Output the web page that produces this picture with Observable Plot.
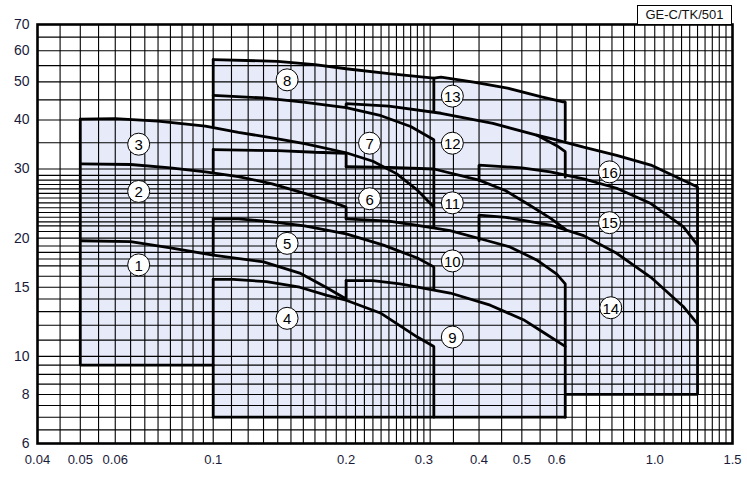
<!DOCTYPE html>
<html><head><meta charset="utf-8">
<script src="https://cdn.jsdelivr.net/npm/d3@7"></script>
<script src="https://cdn.jsdelivr.net/npm/@observablehq/plot@0.6"></script>
<style>
body{margin:0;background:#fff;font-family:"Liberation Sans",Arial,sans-serif}
#wrap{position:relative;width:747px;height:477px}
#tag{position:absolute;left:637px;top:5px;width:93px;height:18px;border:1px solid #000;font-size:13px;line-height:18px;text-align:center;color:#111;background:#fff}
</style></head><body><div id="wrap"><div id="tag">GE-C/TK/501</div></div>
<script>
const xTicks=[0.04,0.05,0.06,0.08,0.1,0.2,0.3,0.4,0.5,0.6,0.8,1.0,1.5];
const xTickLabels=["0.04","0.05","0.06","0.08","0.1","0.2","0.3","0.4","0.5","0.6","0.8","1.0","1.5"];
const yTicks=[6,8,10,15,20,30,40,50,60,70];
const xGrid=[0.045,0.05,0.055,0.06,0.065,0.07,0.075,0.08,0.085,0.09,0.095,0.1,0.11,0.12,0.13,0.14,0.15,0.16,0.17,0.18,0.19,0.2,0.21,0.22,0.23,0.24,0.25,0.26,0.27,0.28,0.29,0.3,0.31,0.35,0.4,0.45,0.5,0.55,0.6,0.65,0.7,0.75,0.8,0.85,0.9,0.95,1.0,1.05,1.1,1.15,1.2,1.25,1.3,1.35,1.4,1.45];
const yGrid=[6.5,7,7.5,8,8.5,9,9.5,10,11,12,13,14,15,16,17,17.7,18.4,19.1,20,20.8,21.5,22,22.6,23.25,23.9,24.6,25.3,26,26.7,27.4,28.1,28.9,30,35,40,45,50,55,60,65];

// curves [flow, head]
const c1=[[0.05,19.7],[0.065,19.6],[0.08,18.9],[0.1,18.1],[0.13,17.4],[0.157,16.3],[0.18,15.0],[0.2,14.0],[0.2,15.6]];
const c2=[[0.05,30.9],[0.065,30.8],[0.08,30.2],[0.096,29.5],[0.114,28.7],[0.136,27.5],[0.161,26.0],[0.186,24.7],[0.2,24.0],[0.2,22.4]];
const c3=[[0.05,40.2],[0.06,40.3],[0.075,39.7],[0.096,38.6],[0.114,37.2],[0.136,36.0],[0.161,34.8],[0.2,33.0],[0.23,31.4],[0.26,29.2],[0.29,26.5],[0.316,24.0]];
const c4=[[0.1,15.7],[0.111,15.7],[0.132,15.5],[0.157,15.0],[0.181,14.3],[0.2,13.9],[0.239,12.9],[0.29,11.2],[0.316,10.6],[0.316,7]];
const c5=[[0.1,22.4],[0.114,22.4],[0.136,22.0],[0.161,21.5],[0.2,20.5],[0.243,19.2],[0.29,17.8],[0.316,16.9],[0.316,14.8]];
const c6=[[0.1,33.6],[0.14,33.4],[0.17,33.1],[0.2,32.9],[0.2,30.4]];
const c7=[[0.1,46.2],[0.13,45.5],[0.16,44.4],[0.2,43.0],[0.24,41.0],[0.28,38.5],[0.316,35.6],[0.316,21.3]];
const c8=[[0.1,57.0],[0.14,56.4],[0.17,55.3],[0.2,54],[0.25,52.5],[0.316,51.1],[0.316,42.3]];
const c9=[[0.2,15.6],[0.23,15.6],[0.265,15.3],[0.344,14.5],[0.424,13.5],[0.504,12.4],[0.56,11.5],[0.627,10.6],[0.627,7]];
const c10=[[0.2,22.4],[0.25,22.1],[0.295,21.5],[0.344,20.9],[0.418,19.7],[0.47,19.0],[0.54,17.6],[0.6,16.2],[0.627,15.3],[0.627,10.6]];
const c11=[[0.2,30.4],[0.25,30.3],[0.316,30.0],[0.4,28.1],[0.46,26.4],[0.52,24.3],[0.58,22.5],[0.627,21.1]];
const c12=[[0.2,43.0],[0.2,44.0],[0.25,43.4],[0.328,41.6],[0.43,39.2],[0.54,36.6],[0.6,34.4],[0.627,33.2],[0.627,28.6]];
const c13=[[0.316,51.1],[0.328,51.4],[0.389,49.9],[0.464,48.2],[0.554,45.8],[0.62,44.5],[0.627,44.5],[0.627,35.6]];
const c14=[[0.4,19.7],[0.4,22.9],[0.46,22.6],[0.58,21.6],[0.69,20.3],[0.82,18.3],[0.98,15.9],[1.16,13.4],[1.25,12.1]];
const c15=[[0.4,28.1],[0.4,30.7],[0.5,30.2],[0.58,29.5],[0.69,28.3],[0.82,26.8],[0.98,24.5],[1.16,21.4],[1.25,19.2]];
const c16=[[0.54,36.6],[0.58,35.9],[0.69,34.1],[0.82,32.5],[0.98,30.7],[1.16,28.1],[1.25,27.0],[1.25,8],[0.627,8]];
const edgeA=[[0.1,9.5],[0.05,9.5],[0.05,40.2]];
const edgeB=[[0.1,7],[0.627,7]];
const leftB1=[[0.1,7],[0.1,15.7]];
const leftB2=[[0.1,18.1],[0.1,22.4]];
const leftB3=[[0.1,29.5],[0.1,33.6]];
const leftB4=[[0.1,38.6],[0.1,57.0]];

const outlines={c1,c2,c3,c4,c5,c6,c7,c8,c9,c10,c11,c12,c13,c14,c15,c16,edgeA,edgeB,leftB1,leftB2,leftB3,leftB4};

// shaded bands: [flow, base, top]
const fillA=[[0.05,9.5,40.2],[0.06,9.5,40.3],[0.075,9.5,39.7],[0.1,9.5,38.5]];
const fillB=[[0.1,7,57.0],[0.14,7,56.4],[0.17,7,55.3],[0.2,7,54],[0.25,7,52.5],[0.316,7,51.1]];
const fillC=[[0.316,7,51.1],[0.328,7,51.4],[0.389,7,49.9],[0.464,7,48.2],[0.554,7,45.8],[0.627,7,44.5]];
const fillD=[[0.627,8,35.6],[0.69,8,34.1],[0.82,8,32.5],[0.98,8,30.7],[1.16,8,28.1],[1.25,8,27.0]];

const labelNo=["1","2","3","4","5","6","7","8","9","10","11","12","13","14","15","16"];
const labelX=[0.0678,0.0678,0.0678,0.147,0.147,0.226,0.226,0.147,0.348,0.348,0.348,0.348,0.348,0.795,0.79,0.79];
const labelY=[17.1,26.3,34.7,12.5,19.4,25.2,34.9,50.6,11.2,17.5,24.6,34.9,46.0,13.3,21.9,29.5];

const lineRows=[];
for(const [id,pts] of Object.entries(outlines)) for(const [x,y] of pts) lineRows.push({id,x,y});
const fillRows=[];
for(const [fam,pts] of Object.entries({fillA,fillB,fillC,fillD})) for(const [x,b,t] of pts) fillRows.push({fam,x,b,t});
const labels=labelNo.map((t,i)=>({t,x:labelX[i],y:labelY[i]}));

const chart=Plot.plot({
  width:747,height:477,marginLeft:37,marginRight:15,marginTop:24,marginBottom:34,
  style:{fontFamily:"'Liberation Sans',Arial,sans-serif",background:"transparent"},
  x:{type:"log",domain:[0.04,1.5]},
  y:{type:"log",domain:[6,70]},
  marks:[
    Plot.areaY(fillRows,{x:"x",y1:"b",y2:"t",z:"fam",fill:"#e7eaf8"}),
    Plot.ruleX(xGrid,{stroke:"#000",strokeWidth:1.1}),
    Plot.ruleY(yGrid,{stroke:"#000",strokeWidth:1.1}),
    Plot.line(lineRows,{x:"x",y:"y",z:"id",stroke:"#000",strokeWidth:2.8,strokeLinejoin:"miter",curve:"linear"}),
    Plot.frame({stroke:"#000",strokeWidth:2.6}),
    Plot.axisX({ticks:xTicks,tickFormat:d=>xTickLabels[xTicks.indexOf(d)],tickSize:0,tickPadding:11,fontSize:13,fill:"#1a1a3a",label:null}),
    Plot.axisY({ticks:yTicks,tickFormat:d=>String(d),tickSize:0,tickPadding:8,fontSize:14,fill:"#1a1a3a",label:null}),
    Plot.dot(labels,{x:"x",y:"y",r:11,fill:"#fff",stroke:"#000",strokeWidth:1}),
    Plot.text(labels,{x:"x",y:"y",text:"t",fontSize:15,fill:"#000",dy:1})
  ]
});
document.getElementById("wrap").prepend(chart);
</script></body></html>
